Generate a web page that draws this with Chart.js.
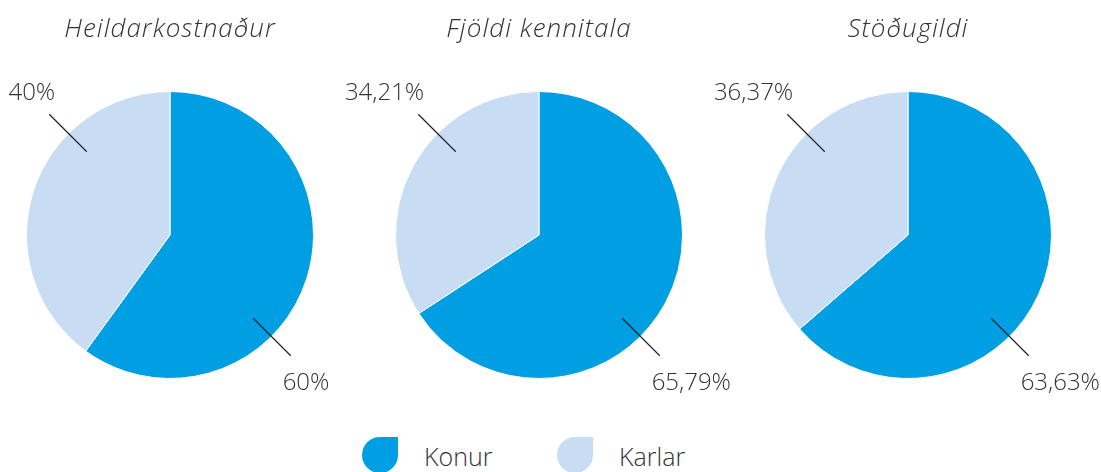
<!DOCTYPE html>
<html>
<head>
<meta charset="utf-8">
<script src="https://cdn.jsdelivr.net/npm/chart.js@4/dist/chart.umd.min.js"></script>
<style>
  html, body { margin: 0; padding: 0; background: #fff; }
  body { width: 1101px; height: 472px; position: relative; overflow: hidden; font-family: "Open Sans", sans-serif; }
  .pie { position: absolute; top: 0; width: 420px; height: 420px; }
  .legend { position: absolute; top: 437px; left: 0; width: 1101px; height: 36px; }
  .legend .item { position: absolute; top: 0; height: 36px; display: flex; align-items: center; }
  .legend .icon { width: 36px; height: 36px; border-radius: 18px 0 18px 18px; margin-right: 26px; }
  .legend .txt { font-size: 25px; font-weight: 300; color: #333; line-height: 36px; margin-top: 2px; }
</style>
</head>
<body>
<div class="pie" style="left:-40px"><canvas id="pie1"></canvas></div>
<div class="pie" style="left:329px"><canvas id="pie2"></canvas></div>
<div class="pie" style="left:698px"><canvas id="pie3"></canvas></div>
<div class="legend" id="legend"></div>

<script>
// ---- data ----
const categories = ['Konur', 'Karlar'];
const titles = ['Heildarkostnaður', 'Fjöldi kennitala', 'Stöðugildi'];
const heildarkostnadur = [60, 40];
const fjoldiKennitala = [65.79, 34.21];
const stodugildi = [63.63, 36.37];
const valueLabels = [['60%', '40%'], ['65,79%', '34,21%'], ['63,63%', '36,37%']];

const colors = ['#009fe3', '#c8ddf4'];
const textColor = '#333333';

// wider title letters, like the original typeface
const titleSpacing = {
  id: 'titleSpacing',
  beforeDraw(chart) { chart.ctx.letterSpacing = '1px'; },
  beforeDatasetsDraw(chart) { chart.ctx.letterSpacing = '0px'; }
};

// leader lines + percentage labels
const sliceLabels = {
  id: 'sliceLabels',
  afterDatasetsDraw(chart, args, opts) {
    const arc = chart.getDatasetMeta(0).data[0];
    const cx = arc.x, cy = arc.y, r = arc.outerRadius;
    const ctx = chart.ctx;
    const d = Math.SQRT1_2;
    ctx.save();
    ctx.strokeStyle = '#222';
    ctx.lineWidth = 1.2;
    ctx.fillStyle = textColor;
    ctx.font = '300 24px "Open Sans", sans-serif';
    ctx.textBaseline = 'middle';
    // Konur: bottom-right
    ctx.beginPath();
    ctx.moveTo(cx + 0.82 * r * d, cy + 0.82 * r * d);
    ctx.lineTo(cx + 1.19 * r * d, cy + 1.19 * r * d);
    ctx.stroke();
    ctx.textAlign = 'left';
    ctx.fillText(opts.labels[0], cx + 0.785 * r, cy + 1.03 * r);
    // Karlar: top-left
    ctx.beginPath();
    ctx.moveTo(cx - 0.82 * r * d, cy - 0.82 * r * d);
    ctx.lineTo(cx - 1.19 * r * d, cy - 1.19 * r * d);
    ctx.stroke();
    ctx.textAlign = 'right';
    ctx.fillText(opts.labels[1], cx - 0.80 * r, cy - 0.99 * r);
    ctx.restore();
  }
};

function makePie(id, title, values, labels) {
  new Chart(document.getElementById(id), {
    type: 'pie',
    data: {
      labels: categories,
      datasets: [{
        data: values,
        backgroundColor: colors,
        borderColor: '#ffffff',
        borderWidth: 1,
      }]
    },
    options: {
      responsive: true,
      maintainAspectRatio: false,
      animation: false,
      layout: { padding: { left: 66, right: 66, top: 0, bottom: 41 } },
      plugins: {
        legend: { display: false },
        tooltip: { enabled: false },
        title: {
          display: true,
          text: title,
          color: textColor,
          font: { family: '"Open Sans", sans-serif', size: 26, style: 'italic', weight: 300, lineHeight: 1.2 },
          padding: { top: 14, bottom: 45.8 }
        },
        sliceLabels: { labels: labels }
      }
    },
    plugins: [titleSpacing, sliceLabels]
  });
}

makePie('pie1', titles[0], heildarkostnadur, valueLabels[0]);
makePie('pie2', titles[1], fjoldiKennitala, valueLabels[1]);
makePie('pie3', titles[2], stodugildi, valueLabels[2]);

// legend
const legendEl = document.getElementById('legend');
const legendLeft = [362, 557];
categories.forEach((name, i) => {
  const item = document.createElement('div');
  item.className = 'item';
  item.style.left = legendLeft[i] + 'px';
  item.innerHTML = '<div class="icon" style="background:' + colors[i] + '"></div><span class="txt">' + name + '</span>';
  legendEl.appendChild(item);
});
</script>
</body>
</html>
